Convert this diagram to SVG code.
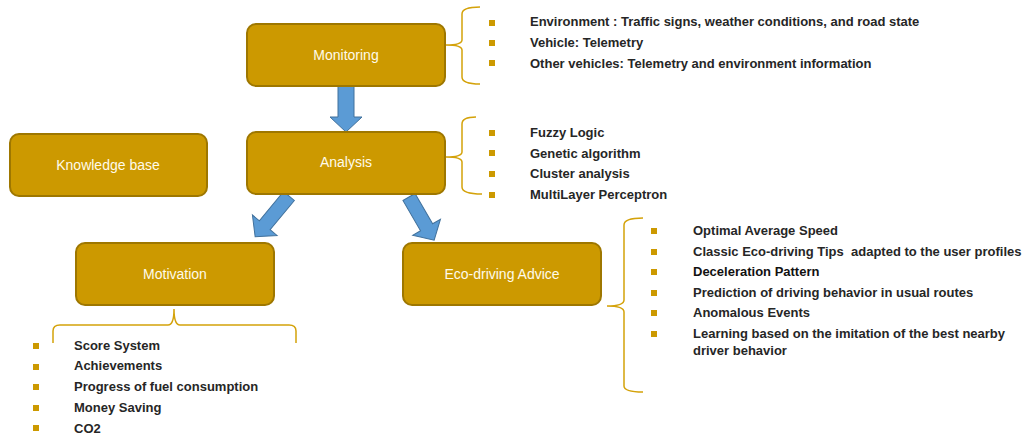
<svg xmlns="http://www.w3.org/2000/svg" width="1028" height="437" viewBox="0 0 1028 437">
<style>
.box{fill:#CC9900;stroke:#9E7700;stroke-width:2}
.lbl{font-family:"Liberation Sans",Arial,sans-serif;font-size:14px;fill:#FFFBEA;text-anchor:middle}
.item{font-family:"Liberation Sans",Arial,sans-serif;font-size:13px;font-weight:bold;fill:#262626;white-space:pre}
.bul{fill:#CC9900}
.brace{fill:none;stroke:#D4A20A;stroke-width:1.5}
.arr{fill:#5B9BD5;stroke:#41719C;stroke-width:1}
</style>
<rect width="1028" height="437" fill="#FFFFFF"/>
<g id="connectors">
<polygon class="arr" transform="translate(346,86) rotate(90)" points="0,-8 31,-8 31,-16 46,0 31,16 31,8 0,8"/>
<polygon class="arr" transform="translate(289,196) rotate(129.7)" points="0,-7 38,-7 38,-16 53,0 38,16 38,7 0,7"/>
<polygon class="arr" transform="translate(409,197) rotate(59.8)" points="0,-7 35,-7 35,-16 50,0 35,16 35,7 0,7"/>
<path class="brace" d="M480,7 Q462,7 462,14 L462,40 Q462,45 446,45 Q462,45 462,50 L462,77 Q462,84 480,84"/>
<path class="brace" d="M476,117 Q462,117 462,124 L462,152 Q462,157 446,157 Q462,157 462,162 L462,187 Q462,194 482,194"/>
<path class="brace" d="M643,218 Q624,218 624,225 L624,300 Q624,306 607,306 Q624,306 624,312 L624,386 Q624,392 643,392"/>
<path class="brace" d="M53,343 L53,331 Q53,325 60,325 L168,325 Q174,325 174,309 Q174,325 180,325 L289,325 Q296,325 296,331 L296,343"/>
</g>
<g id="monitoring">
<rect class="box" x="247" y="24" width="198" height="62" rx="9"/>
<text class="lbl" x="346" y="60">Monitoring</text>
</g>
<g id="analysis">
<rect class="box" x="247" y="132" width="198" height="62" rx="9"/>
<text class="lbl" x="346" y="167">Analysis</text>
</g>
<g id="knowledge-base">
<rect class="box" x="10" y="134" width="197" height="62" rx="9"/>
<text class="lbl" x="108" y="170">Knowledge base</text>
</g>
<g id="motivation">
<rect class="box" x="76" y="243" width="198" height="62" rx="9"/>
<text class="lbl" x="175" y="279">Motivation</text>
</g>
<g id="eco-driving-advice">
<rect class="box" x="403" y="243" width="198" height="62" rx="9"/>
<text class="lbl" x="502" y="279">Eco-driving Advice</text>
</g>
<g id="monitoring-list">
<rect class="bul" x="489" y="20" width="6" height="6"/>
<rect class="bul" x="489" y="40" width="6" height="6"/>
<rect class="bul" x="489" y="60" width="6" height="6"/>
<text class="item" x="530" y="26">Environment : Traffic signs, weather conditions, and road state</text>
<text class="item" x="530" y="47">Vehicle: Telemetry</text>
<text class="item" x="530" y="68">Other vehicles: Telemetry and environment information</text>
</g>
<g id="analysis-list">
<rect class="bul" x="489" y="130" width="6" height="6"/>
<rect class="bul" x="489" y="150" width="6" height="6"/>
<rect class="bul" x="489" y="171" width="6" height="6"/>
<rect class="bul" x="489" y="192" width="6" height="6"/>
<text class="item" x="530" y="137">Fuzzy Logic</text>
<text class="item" x="530" y="158">Genetic algorithm</text>
<text class="item" x="530" y="178">Cluster analysis</text>
<text class="item" x="530" y="199">MultiLayer Perceptron</text>
</g>
<g id="eco-list">
<rect class="bul" x="651" y="228" width="6" height="6"/>
<rect class="bul" x="651" y="249" width="6" height="6"/>
<rect class="bul" x="651" y="269" width="6" height="6"/>
<rect class="bul" x="651" y="290" width="6" height="6"/>
<rect class="bul" x="651" y="310" width="6" height="6"/>
<rect class="bul" x="651" y="331" width="6" height="6"/>
<text class="item" x="693" y="235">Optimal Average Speed</text>
<text class="item" x="693" y="256" xml:space="preserve">Classic Eco-driving Tips  adapted to the user profiles</text>
<text class="item" x="693" y="276" style="fill:#111111">Deceleration Pattern</text>
<text class="item" x="693" y="297">Prediction of driving behavior in usual routes</text>
<text class="item" x="693" y="317">Anomalous Events</text>
<text class="item" x="693" y="338">Learning based on the imitation of the best nearby</text>
<text class="item" x="693" y="355">driver behavior</text>
</g>
<g id="motivation-list">
<rect class="bul" x="33" y="343" width="6" height="6"/>
<rect class="bul" x="33" y="364" width="6" height="6"/>
<rect class="bul" x="33" y="384" width="6" height="6"/>
<rect class="bul" x="33" y="405" width="6" height="6"/>
<rect class="bul" x="33" y="425" width="6" height="6"/>
<text class="item" x="74" y="350">Score System</text>
<text class="item" x="74" y="370">Achievements</text>
<text class="item" x="74" y="391">Progress of fuel consumption</text>
<text class="item" x="74" y="412">Money Saving</text>
<text class="item" x="74" y="433">CO2</text>
</g>
</svg>
